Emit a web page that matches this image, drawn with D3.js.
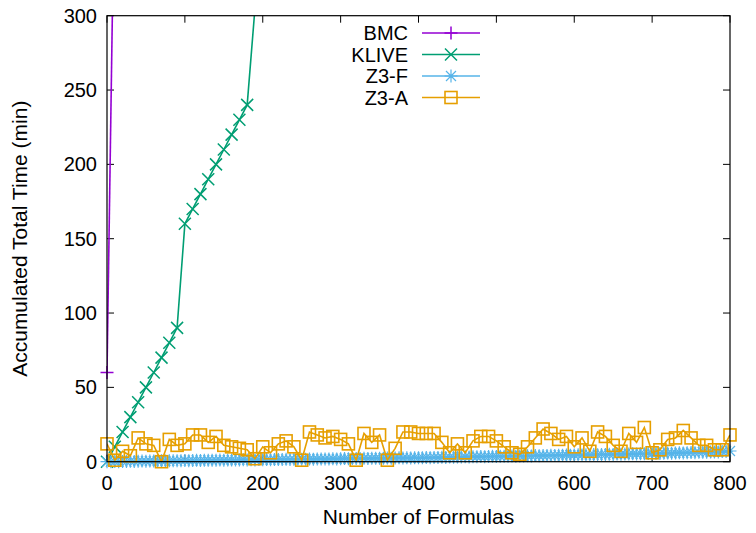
<!DOCTYPE html>
<html><head><meta charset="utf-8">
<script src="https://cdn.jsdelivr.net/npm/d3@7"></script>
<style>body{margin:0;background:#fff}svg{display:block}text{font-family:"Liberation Sans",Arial,sans-serif;fill:#000}</style>
</head><body>
<svg id="c" width="756" height="533"></svg>
<script>
const xTicks = [0,100,200,300,400,500,600,700,800];
const yTicks = [0,50,100,150,200,250,300];
const seriesNames = ["BMC","KLIVE","Z3-F","Z3-A"];
const seriesColors = ["#9400d3","#009e73","#56b4e9","#e69f00"];

const bmcX = [0,10];
const bmcY = [60,410];

const kliveX = [0,10,20,30,40,50,60,70,80,90,100,110,120,130,140,150,160,170,180,190];
const kliveY = [0,10,20,30,40,50,60,70,80,90,160,170,180,190,200,210,220,230,240,305];

const z3fY = [
 0,0,0.1,0,0.2,0.1,0.3,0.2,0.3,0.4,0.3,0.5,0.4,0.5,0.6,0.5,0.6,0.7,0.6,0.7,0.8,
 0.7,0.8,0.9,0.8,0.9,1.0,0.9,1.0,1.1,1.0,1.1,1.2,1.1,1.2,1.3,1.2,1.3,1.2,1.4,1.3,
 1.4,1.3,1.5,1.4,1.5,1.6,1.5,1.6,1.7,1.6,1.7,1.8,1.7,1.8,1.9,1.8,1.9,2.0,1.9,2.0,
 2.1,2.0,2.2,2.1,2.2,2.3,2.2,2.3,2.4,2.3,2.4,2.5,2.4,2.5,2.6,2.5,2.6,2.5,2.7,2.6,
 2.7,2.8,2.7,2.9,2.8,3.0,2.9,3.1,3.0,3.2,3.1,3.3,3.2,3.4,3.3,3.5,3.4,3.5,3.6,3.5,
 3.6,3.7,3.6,3.8,3.7,3.9,3.8,4.0,3.9,4.1,4.0,4.2,4.1,4.3,4.2,4.4,4.3,4.5,4.4,4.5,
 4.6,4.5,4.7,4.6,4.8,4.7,4.9,4.8,5.0,4.9,5.1,5.0,5.2,5.1,5.3,5.2,5.4,5.3,5.5,5.4,
 5.6,5.5,5.7,5.8,5.7,5.9,6.0,5.9,6.1,6.2,6.1,6.3,6.4,6.3,6.5,6.6,6.5,6.8,6.9,7.2
];
const z3fX = z3fY.map((_, i) => i * 5);

const z3aY = [
 12,1,7,4,16,12,11,0,15,11,
 12,18,18,13,17,11,10,9,8,2,
 10,6,12,14,10,1,20,18,16,17,
 15,12,1,19,13,18,1,9,20,20,
 19,19,19,13,6,12,6,14,17,17,
 14,10,6,5,10,16,22,19,15,17,
 10,16,7,20,17,11,7,19,13,23,
 6,8,15,16,21,16,11,11,8,8,18
];
const z3aX = z3aY.map((_, i) => i * 10);

const svg = d3.select("#c");
const L = 107, R = 730, T = 15.7, B = 461.7;
const x = d3.scaleLinear().domain([0,800]).range([L,R]);
const y = d3.scaleLinear().domain([0,300]).range([B,T]);
const FS = 20;

svg.append("defs").append("clipPath").attr("id","clip")
  .append("rect").attr("x",L).attr("y",T).attr("width",R-L).attr("height",B-T);

const tl = 7;
const g = svg.append("g");
xTicks.forEach(t => {
  g.append("line").attr("x1",x(t)).attr("x2",x(t)).attr("y1",B).attr("y2",B-tl).attr("stroke","#000");
  g.append("line").attr("x1",x(t)).attr("x2",x(t)).attr("y1",T).attr("y2",T+tl).attr("stroke","#000");
  g.append("text").attr("x",x(t)).attr("y",490).attr("text-anchor","middle").attr("font-size",FS).text(t);
});
yTicks.forEach(t => {
  g.append("line").attr("x1",L).attr("x2",L+tl).attr("y1",y(t)).attr("y2",y(t)).attr("stroke","#000");
  g.append("line").attr("x1",R).attr("x2",R-tl).attr("y1",y(t)).attr("y2",y(t)).attr("stroke","#000");
  g.append("text").attr("x",97).attr("y",y(t)+7).attr("text-anchor","end").attr("font-size",FS).text(t);
});
svg.append("text").attr("x",(L+R)/2).attr("y",524).attr("text-anchor","middle").attr("font-size",21).text("Number of Formulas");
svg.append("text").attr("transform",`translate(27,${(T+B)/2}) rotate(-90)`).attr("text-anchor","middle").attr("font-size",21).text("Accumulated Total Time (min)");

function marker(sel, type, cx, cy, color){
  const s = 6.5;
  if(type==="plus"){
    sel.append("path").attr("d",`M${cx-s},${cy}H${cx+s}M${cx},${cy-s}V${cy+s}`).attr("stroke",color).attr("stroke-width",1.5).attr("fill","none");
  } else if(type==="cross"){
    const k=6;
    sel.append("path").attr("d",`M${cx-k},${cy-k}L${cx+k},${cy+k}M${cx-k},${cy+k}L${cx+k},${cy-k}`).attr("stroke",color).attr("stroke-width",1.5).attr("fill","none");
  } else if(type==="star"){
    const k=5;
    sel.append("path").attr("d",`M${cx-k},${cy-k}L${cx+k},${cy+k}M${cx-k},${cy+k}L${cx+k},${cy-k}M${cx-s},${cy}H${cx+s}M${cx},${cy-s}V${cy+s}`).attr("stroke",color).attr("stroke-width",1.2).attr("fill","none");
  } else if(type==="square"){
    const k=6;
    sel.append("rect").attr("x",cx-k).attr("y",cy-k).attr("width",2*k).attr("height",2*k).attr("stroke",color).attr("stroke-width",1.6).attr("fill","none");
  }
}

const series = [
  {xs:bmcX, ys:bmcY, type:"plus"},
  {xs:kliveX, ys:kliveY, type:"cross"},
  {xs:z3fX, ys:z3fY, type:"star"},
  {xs:z3aX, ys:z3aY, type:"square"}
];
const line = d3.line().x(d=>x(d[0])).y(d=>y(d[1]));
series.forEach((s,i) => {
  const pts = s.xs.map((v,j)=>[v,s.ys[j]]);
  const col = seriesColors[i];
  svg.append("path").attr("d",line(pts)).attr("clip-path","url(#clip)")
    .attr("fill","none").attr("stroke",col).attr("stroke-width",1.6);
  const mg = svg.append("g");
  pts.filter(p=>p[1]<=300 && p[1]>=0 && p[0]<=800).forEach(p=>marker(mg,s.type,x(p[0]),y(p[1]),col));
});

svg.append("rect").attr("x",L).attr("y",T).attr("width",R-L).attr("height",B-T).attr("fill","none").attr("stroke","#000").attr("stroke-width",1.2);

const ly0 = 33, ldy = 21.5;
seriesNames.forEach((n,i) => {
  const yy = ly0 + i*ldy;
  svg.append("text").attr("x",408).attr("y",yy+7).attr("text-anchor","end").attr("font-size",FS).text(n);
  svg.append("line").attr("x1",422).attr("x2",480).attr("y1",yy).attr("y2",yy).attr("stroke",seriesColors[i]).attr("stroke-width",1.6);
  marker(svg, series[i].type, 451, yy, seriesColors[i]);
});
</script>
</body></html>
